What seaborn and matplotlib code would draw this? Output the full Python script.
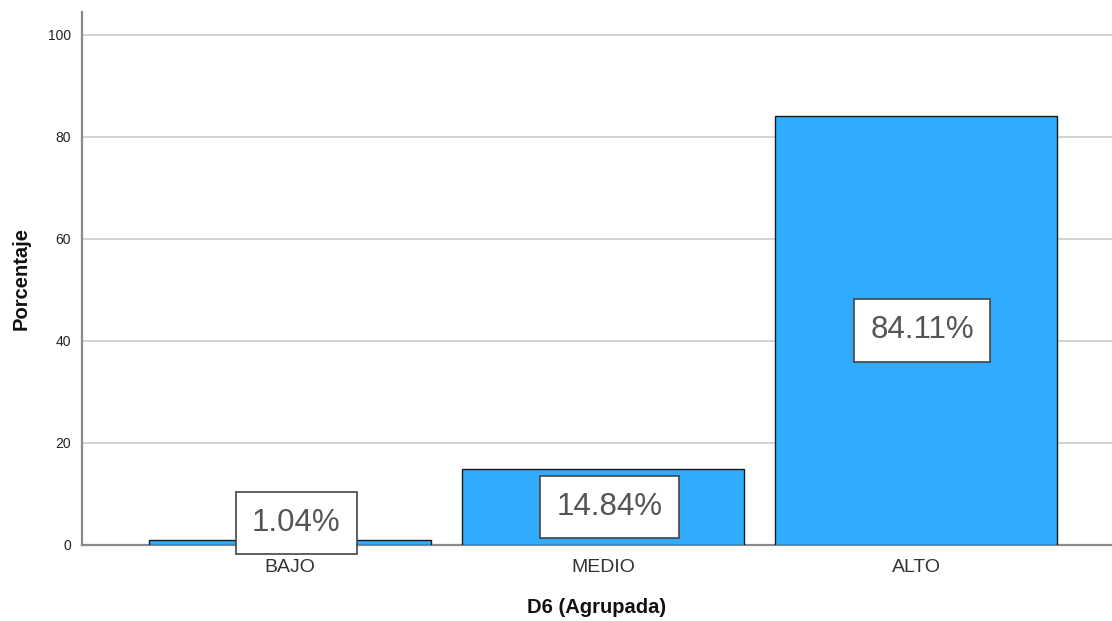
import matplotlib
matplotlib.use("Agg")
import matplotlib.pyplot as plt
import seaborn as sns
import pandas as pd

categories = ["BAJO", "MEDIO", "ALTO"]
percentages = [1.04, 14.84, 84.11]
y_ticks = [0, 20, 40, 60, 80, 100]

sns.set_theme(style="white")
plt.rcParams["font.family"] = ["Liberation Sans", "DejaVu Sans"]

df = pd.DataFrame({"D6 (Agrupada)": categories, "Porcentaje": percentages})

fig = plt.figure(figsize=(11.12, 6.21), dpi=100)
ax = fig.add_axes([0.0737, 0.1224, 0.9263, 0.8583])

sns.barplot(data=df, x="D6 (Agrupada)", y="Porcentaje", order=categories,
            color="#30ABFD", saturation=1, width=0.9,
            edgecolor="#1a1a1a", linewidth=1.0, ax=ax, zorder=3)

ax.set_xlim(-0.665, 2.626)
ax.set_ylim(0, 104.5)
ax.set_yticks(y_ticks)
ax.yaxis.grid(True, color="#d4d4d4", linewidth=1.4, zorder=0)
ax.set_axisbelow(True)

for side in ("top", "right"):
    ax.spines[side].set_visible(False)
for side in ("left", "bottom"):
    ax.spines[side].set_color("#8a8a8a")
    ax.spines[side].set_linewidth(1.6)

ax.tick_params(axis="y", length=0, pad=8, labelsize=10, labelcolor="#222222")
ax.tick_params(axis="x", length=0, pad=10, labelsize=14, labelcolor="#333333")

ax.set_xlabel("D6 (Agrupada)", fontsize=14.5, fontweight="bold", color="#111111", labelpad=16)
ax.set_ylabel("Porcentaje", fontsize=14.5, fontweight="bold", color="#111111")
ax.yaxis.set_label_coords(-0.050, 0.5)

for i, v in enumerate(percentages):
    ax.text(i + 0.02, max(v / 2, 4.3), f"{v:.2f}%", ha="center", va="center",
            fontsize=22.5, color="#555555", zorder=5,
            bbox=dict(boxstyle="square,pad=0.52", facecolor="white",
                      edgecolor="#444444", linewidth=1.2))

fig.savefig("out.png", dpi=100)
